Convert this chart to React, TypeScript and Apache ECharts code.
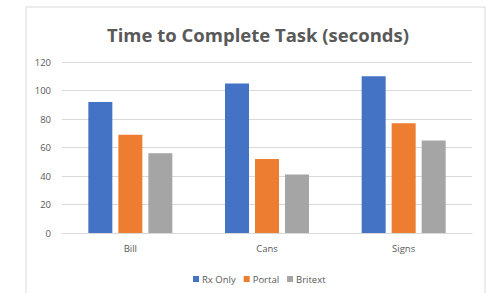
import React, { useEffect, useRef } from "react";
import * as echarts from "echarts";

const categories = ["Bill", "Cans", "Signs"];
const seriesNames = ["Rx Only", "Portal", "Britext"];
const rxOnly = [92, 105, 110];
const portal = [69, 52, 77];
const britext = [56, 41, 65];
const colors = ["#4472C4", "#ED7D31", "#A5A5A5"];
const yTicks = { min: 0, max: 120, interval: 20 };

export default function App() {
  const ref = useRef<HTMLDivElement>(null);
  useEffect(() => {
    if (!ref.current) return;
    const chart = echarts.init(ref.current, null, { renderer: "svg" });
    const font = "'Open Sans', 'Liberation Sans', sans-serif";
    const values = [rxOnly, portal, britext];
    chart.setOption({
      animation: false,
      backgroundColor: "#ffffff",
      textStyle: { fontFamily: font },
      title: {
        text: "Time to Complete Task (seconds)",
        left: 253,
        top: 20,
        textAlign: "center",
        textStyle: { fontFamily: font, fontSize: 18.5, fontWeight: "bold", color: "#595959" },
      },
      graphic: [
        {
          type: "rect",
          shape: { x: 26, y: 7, width: 459, height: 300 },
          style: { fill: "none", stroke: "#d9d9d9", lineWidth: 1 },
          silent: true,
          z: -1,
        },
      ],
      legend: {
        data: seriesNames,
        left: 188,
        top: 269,
        itemWidth: 6,
        itemHeight: 6,
        itemGap: 8,
        icon: "rect",
        textStyle: { fontFamily: font, fontSize: 9.5, color: "#595959", padding: [0, 0, 0, -2] },
      },
      grid: { left: 62, right: 20, top: 62, bottom: 60, containLabel: false },
      xAxis: {
        type: "category",
        data: categories,
        axisLine: { lineStyle: { color: "#d9d9d9" } },
        axisTick: { show: false },
        axisLabel: { fontFamily: font, fontSize: 9.5, color: "#595959", margin: 10 },
      },
      yAxis: {
        type: "value",
        min: yTicks.min,
        max: yTicks.max,
        interval: yTicks.interval,
        axisLine: { show: false },
        axisTick: { show: false },
        splitLine: { lineStyle: { color: "#d9d9d9" } },
        axisLabel: { fontFamily: font, fontSize: 9.5, color: "#595959", margin: 11 },
      },
      series: seriesNames.map((name, i) => ({
        name,
        type: "bar",
        data: values[i],
        barWidth: 24,
        barGap: "25%",
        itemStyle: { color: colors[i] },
      })),
    });
    return () => chart.dispose();
  }, []);
  return (
    <div
      ref={ref}
      style={{ position: "fixed", left: 0, top: 0, width: 492, height: 293 }}
    />
  );
}
